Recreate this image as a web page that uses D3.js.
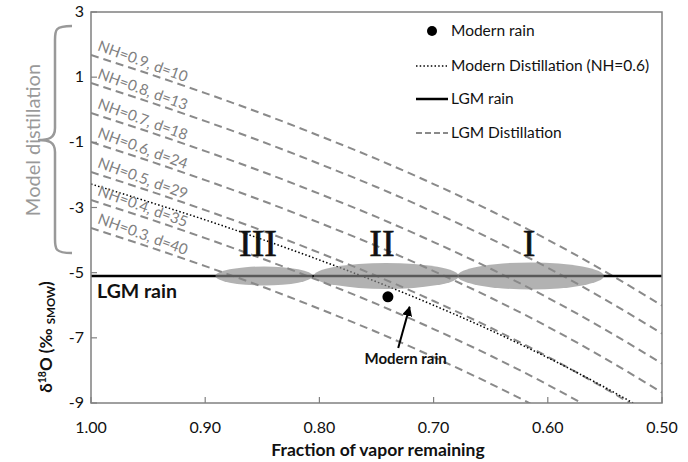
<!DOCTYPE html>
<html><head><meta charset="utf-8">
<script src="https://cdn.jsdelivr.net/npm/d3@7"></script>
<style>body{margin:0;background:#fff}svg{display:block}</style>
</head><body>
<svg id="c" width="688" height="462"></svg>
<script>
// ---- data ----
const fractions = [1.00,0.95,0.90,0.85,0.80,0.75,0.70,0.65,0.60,0.55,0.50];
const lgmLabels = ["NH=0.9, d=10","NH=0.8, d=13","NH=0.7, d=18","NH=0.6, d=24","NH=0.5, d=29","NH=0.4, d=35","NH=0.3, d=40"];
const lgm09 = [1.68,1.11,0.51,-0.12,-0.80,-1.51,-2.28,-3.10,-3.99,-4.96,-6.01];
const lgm08 = [0.82,0.25,-0.35,-0.98,-1.66,-2.37,-3.14,-3.96,-4.85,-5.82,-6.87];
const lgm07 = [-0.10,-0.67,-1.27,-1.90,-2.58,-3.29,-4.06,-4.88,-5.77,-6.74,-7.79];
const lgm06 = [-0.99,-1.56,-2.16,-2.79,-3.47,-4.18,-4.95,-5.77,-6.66,-7.63,-8.68];
const lgm05 = [-1.91,-2.48,-3.08,-3.71,-4.39,-5.10,-5.87,-6.69,-7.58,-8.55,-9.60];
const lgm04 = [-2.77,-3.34,-3.94,-4.57,-5.25,-5.96,-6.73,-7.55,-8.44,-9.41,-10.46];
const lgm03 = [-3.63,-4.20,-4.80,-5.43,-6.11,-6.82,-7.59,-8.41,-9.30,-10.27,-11.32];
const modernDistillation = [-2.28,-2.82,-3.38,-3.98,-4.61,-5.28,-6.00,-6.77,-7.61,-8.52,-9.51];
const lgmRain = -5.1;
const modernRain = {f:0.74, d:-5.74};
const regions = ["III","II","I"];
const regionStart = [0.891,0.805,0.679];
const regionEnd = [0.806,0.678,0.551];
const xTicks = [1.00,0.90,0.80,0.70,0.60,0.50];
const yTicks = [3,1,-1,-3,-5,-7,-9];
const legendLabels = ["Modern rain","Modern Distillation (NH=0.6)","LGM rain","LGM Distillation"];

// ---- drawing ----
const svg = d3.select("#c");
const FONT = "Lato, 'Open Sans', sans-serif";
const x = d3.scaleLinear().domain([1.0,0.5]).range([91,662]);
const y = d3.scaleLinear().domain([-9,3]).range([403,12]);

svg.append("defs").append("clipPath").attr("id","clip")
  .append("rect").attr("x",91).attr("y",12).attr("width",571).attr("height",391);

const plot = svg.append("g").attr("clip-path","url(#clip)");
const line = d3.line().x((d,i)=>x(fractions[i])).y(d=>y(d)).curve(d3.curveMonotoneX);

const lgmSeries = [lgm09,lgm08,lgm07,lgm06,lgm05,lgm04,lgm03];
lgmSeries.forEach(s=>{
  plot.append("path").attr("d",line(s)).attr("fill","none")
    .attr("stroke","#8a8a8a").attr("stroke-width",2).attr("stroke-dasharray","8,5");
});
plot.append("path").attr("d",line(modernDistillation)).attr("fill","none")
  .attr("stroke","#000").attr("stroke-width",1.5).attr("stroke-dasharray","1.5,2.2");

plot.append("line").attr("x1",x(1)).attr("x2",x(0.5)).attr("y1",y(lgmRain)).attr("y2",y(lgmRain))
  .attr("stroke","#000").attr("stroke-width",2.5);

const ry = [9.5,13,13.5];
regions.forEach((r,i)=>{
  const cx = (x(regionStart[i])+x(regionEnd[i]))/2;
  const rx = (x(regionEnd[i])-x(regionStart[i]))/2;
  plot.append("ellipse").attr("cx",cx).attr("cy",y(lgmRain)).attr("rx",rx).attr("ry",ry[i])
    .attr("fill","#888").attr("fill-opacity",0.65);
});
const numX = [258,382,529];
regions.forEach((r,i)=>{
  svg.append("text").attr("x",numX[i]).attr("y",256).attr("text-anchor","middle")
    .attr("font-family","'Liberation Serif', 'DejaVu Serif', serif").attr("font-size",38)
    .attr("fill","#111").attr("stroke","#111").attr("stroke-width",0.6).text(r);
});

plot.append("circle").attr("cx",x(modernRain.f)).attr("cy",y(modernRain.d)).attr("r",5.5).attr("fill","#000");

// labels on lines
lgmSeries.forEach((s,i)=>{
  const px = x(0.995), py = y(s[0]) - 5;
  svg.append("text").attr("transform",`translate(${px},${py}) rotate(20)`)
    .attr("font-family",FONT).attr("font-size",15).attr("fill","#808080").text(lgmLabels[i]);
});

// axes box
const ax = svg.append("g");
ax.append("rect").attr("x",91).attr("y",12).attr("width",571).attr("height",391)
  .attr("fill","none").attr("stroke","#808080").attr("stroke-width",1.5);
xTicks.forEach(t=>{
  ax.append("line").attr("x1",x(t)).attr("x2",x(t)).attr("y1",403).attr("y2",397).attr("stroke","#808080").attr("stroke-width",1.2);
  ax.append("text").attr("x",x(t)).attr("y",433).attr("text-anchor","middle")
    .attr("font-family",FONT).attr("font-size",16).attr("fill","#111").text(d3.format(".2f")(t));
});
yTicks.forEach(t=>{
  ax.append("line").attr("x1",91).attr("x2",97).attr("y1",y(t)).attr("y2",y(t)).attr("stroke","#808080").attr("stroke-width",1.2);
  ax.append("text").attr("x",84).attr("y",y(t)+5).attr("text-anchor","end")
    .attr("font-family",FONT).attr("font-size",16).attr("fill","#111").text(t);
});

svg.append("text").attr("x",378).attr("y",456).attr("text-anchor","middle")
  .attr("font-family",FONT).attr("font-size",17.5).attr("font-weight","bold").attr("fill","#111")
  .text("Fraction of vapor remaining");

const yl = svg.append("text").attr("transform","translate(52,337) rotate(-90)").attr("text-anchor","middle")
  .attr("font-family",FONT).attr("font-size",17).attr("font-weight","bold").attr("fill","#111");
yl.append("tspan").text("δ");
yl.append("tspan").attr("font-size",10.5).attr("dy",-6).text("18");
yl.append("tspan").attr("dy",6).text("O (‰ ");
yl.append("tspan").attr("font-size",11.5).attr("dy",3).text("SMOW");
yl.append("tspan").attr("dy",-3).text(")");

// Model distillation brace & label
svg.append("text").attr("transform","translate(40,140) rotate(-90)").attr("text-anchor","middle")
  .attr("font-family",FONT).attr("font-size",20).attr("fill","#999").text("Model distillation");
const bTop=26, bMid=140, bBot=253, bx=55, bEnd=72, bTip=38;
svg.append("path").attr("d",
  `M${bEnd},${bTop} C${bx},${bTop} ${bx},${bTop+4} ${bx},${bTop+14} L${bx},${bMid-12} C${bx},${bMid-2} ${bx-6},${bMid} ${bTip},${bMid}
   C${bx-6},${bMid} ${bx},${bMid+2} ${bx},${bMid+12} L${bx},${bBot-14} C${bx},${bBot-4} ${bx},${bBot} ${bEnd},${bBot}`)
  .attr("fill","none").attr("stroke","#999").attr("stroke-width",2.5);

// LGM rain label
svg.append("text").attr("x",97).attr("y",298).attr("font-family",FONT).attr("font-size",19.5)
  .attr("font-weight","bold").attr("fill","#111").text("LGM rain");

// Modern rain annotation
svg.append("defs").append("marker").attr("id","ah").attr("viewBox","0 0 10 10").attr("refX",9).attr("refY",5)
  .attr("markerWidth",5).attr("markerHeight",5).attr("orient","auto")
  .append("path").attr("d","M0,0 L10,5 L0,10 z").attr("fill","#000");
svg.append("line").attr("x1",x(0.731)).attr("y1",y(-7.31)).attr("x2",x(0.721)).attr("y2",y(-6.05))
  .attr("stroke","#000").attr("stroke-width",2).attr("marker-end","url(#ah)");
svg.append("text").attr("x",x(0.7245)).attr("y",364).attr("text-anchor","middle")
  .attr("font-family",FONT).attr("font-size",15).attr("font-weight","bold").attr("fill","#111").text("Modern rain");

// legend
const lg = svg.append("g");
const rowY = [31,66,99,133];
lg.append("circle").attr("cx",432).attr("cy",rowY[0]).attr("r",5).attr("fill","#000");
lg.append("line").attr("x1",416).attr("x2",447).attr("y1",rowY[1]).attr("y2",rowY[1])
  .attr("stroke","#000").attr("stroke-width",1.5).attr("stroke-dasharray","1.5,2.2");
lg.append("line").attr("x1",416).attr("x2",448).attr("y1",rowY[2]).attr("y2",rowY[2])
  .attr("stroke","#000").attr("stroke-width",2.5);
lg.append("line").attr("x1",416).attr("x2",448).attr("y1",rowY[3]).attr("y2",rowY[3])
  .attr("stroke","#8a8a8a").attr("stroke-width",2).attr("stroke-dasharray","6,3");
legendLabels.forEach((l,i)=>{
  lg.append("text").attr("x",451).attr("y",rowY[i]+5).attr("font-family",FONT).attr("font-size",15.5)
    .attr("fill","#111").text(l);
});
</script>
</body></html>
